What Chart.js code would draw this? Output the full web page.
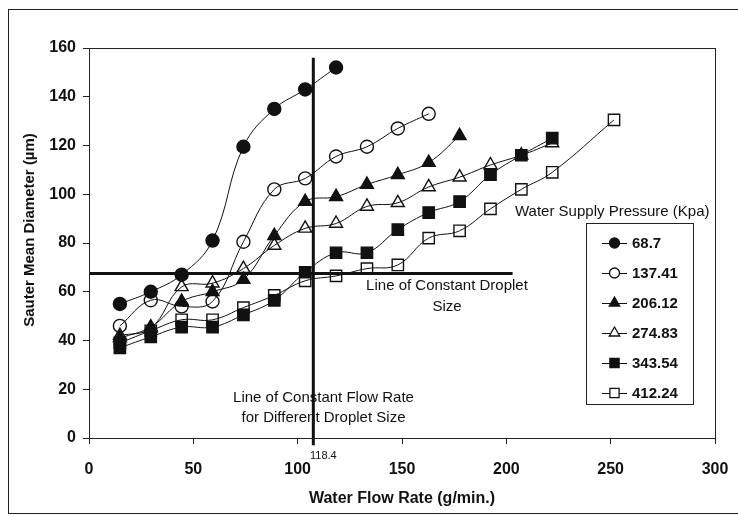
<!DOCTYPE html>
<html><head><meta charset="utf-8">
<script src="https://cdn.jsdelivr.net/npm/chart.js@4.4.1/dist/chart.umd.min.js"></script>
<style>html,body{margin:0;padding:0;background:#fff}#wrap{width:738px;height:516px;position:relative}canvas{display:block}</style>
</head><body><div id="wrap"><canvas id="c" width="738" height="516"></canvas></div>
<script>
// ---- data ----
const flowRates = [14.8, 29.6, 44.4, 59.2, 74, 88.8, 103.6, 118.4, 133.2, 148, 162.8, 177.6, 192.4, 207.2, 222, 236.8, 251.6];
const pressureLabels = ['68.7', '137.41', '206.12', '274.83', '343.54', '412.24'];
const d68_7   = [55, 60, 67, 81, 119.5, 135, 143, 152];
const d137_41 = [46, 56.5, 54, 56, 80.5, 102, 106.5, 115.5, 119.5, 127, 133];
const d206_12 = [41, 45.5, 56, 60, 65, 83, 97, 99, 104, 108, 113, 124];
const d274_83 = [42, 45, 62, 63.5, 69.5, 79, 86, 88, 95, 96.5, 103, 107, 112, 116, 121];
const d343_54 = [37, 41.5, 45.5, 45.5, 50.5, 56.5, 68, 76, 76, 85.5, 92.5, 97, 108, 116, 123];
const d412_24 = [39, 44, 48.5, 48.5, 53.5, 58.5, 64.5, 66.5, 69.5, 71, 82, 85, 94, 102, 109, null, 130.5];
const xTicksStep = 50, xMin = 0, xMax = 300;
const yTicksStep = 20, yMin = 0, yMax = 160;
const constantDropletSize = 67.5;     // horizontal reference line (µm)
const constantSizeLineEnd = 203;      // flow rate where that line ends
const constantFlowRate = 107.5;       // vertical reference line (g/min)
const constantFlowRange = [-3, 156];  // y extent of vertical line
const constantFlowLabel = '118.4';

const INK = '#111';
const FONT = '"Liberation Sans", Arial, sans-serif';
const markerDefs = [
  {style:'circle',   r:6.5, filled:true},
  {style:'circle',   r:6.5, filled:false},
  {style:'triangle', r:7.5, filled:true},
  {style:'triangle', r:7.5, filled:false},
  {style:'rect',     r:8,   filled:true},
  {style:'rect',     r:8,   filled:false}
];
const seriesValues = [d68_7, d137_41, d206_12, d274_83, d343_54, d412_24];

const datasets = seriesValues.map((vals, i) => ({
  label: pressureLabels[i],
  data: vals.map((v, j) => ({x: flowRates[j], y: v})),
  borderColor: INK, borderWidth: 1,
  pointStyle: markerDefs[i].style, pointRadius: markerDefs[i].r, pointHoverRadius: markerDefs[i].r,
  pointBackgroundColor: markerDefs[i].filled ? INK : 'rgba(255,255,255,0)',
  pointBorderColor: INK, pointBorderWidth: 1.4,
  tension: 0.4, spanGaps: true, fill: false
}));
datasets.push({
  label: 'Line of Constant Droplet Size',
  data: [{x: xMin, y: constantDropletSize}, {x: constantSizeLineEnd, y: constantDropletSize}],
  borderColor: INK, borderWidth: 3, pointRadius: 0, tension: 0, fill: false, clip: false
});
datasets.push({
  label: 'Line of Constant Flow Rate',
  data: [{x: constantFlowRate, y: constantFlowRange[0]}, {x: constantFlowRate, y: constantFlowRange[1]}],
  borderColor: INK, borderWidth: 3, pointRadius: 0, tension: 0, fill: false, clip: false
});

const deco = {
  id: 'deco',
  afterDraw(chart) {
    const {ctx, chartArea: a, scales: {x, y}} = chart;
    ctx.save();
    ctx.strokeStyle = '#222'; ctx.lineWidth = 1;
    // plot frame
    ctx.strokeRect(a.left + 0.5, a.top + 0.5, a.right - a.left, a.bottom - a.top);
    // outer chart frame
    ctx.strokeRect(8.5, 9.5, 760, 504);
    ctx.fillStyle = INK;
    ctx.textBaseline = 'middle';
    // y title
    ctx.save();
    ctx.translate(30, 230);
    ctx.rotate(-Math.PI / 2);
    ctx.textAlign = 'center';
    ctx.font = 'bold 15px ' + FONT;
    ctx.fillText('Sauter Mean Diameter (\u00B5m)', 0, 0);
    ctx.restore();
    // annotations
    ctx.textAlign = 'center';
    ctx.font = '15px ' + FONT;
    ctx.fillText('Line of Constant Droplet', 447, 286);
    ctx.fillText('Size', 447, 307);
    ctx.fillText('Line of Constant Flow Rate', 323.5, 398);
    ctx.fillText('for Different Droplet Size', 323.5, 418);
    ctx.font = '11px ' + FONT;
    ctx.fillText(constantFlowLabel, x.getPixelForValue(constantFlowRate) + 10, 456);
    ctx.textAlign = 'left';
    ctx.font = '15px ' + FONT;
    ctx.fillText('Water Supply Pressure (Kpa)', 515, 212);
    // legend
    const L = {x0: 586, y0: 223, x1: 693, y1: 404};
    ctx.strokeRect(L.x0 + 0.5, L.y0 + 0.5, L.x1 - L.x0, L.y1 - L.y0);
    ctx.font = 'bold 15px ' + FONT;
    pressureLabels.forEach((lab, i) => {
      const yy = 243 + i * 30;
      ctx.strokeStyle = INK; ctx.lineWidth = 1;
      ctx.beginPath(); ctx.moveTo(602, yy + 0.5); ctx.lineTo(627, yy + 0.5); ctx.stroke();
      const m = markerDefs[i];
      ctx.fillStyle = m.filled ? INK : '#fff';
      ctx.lineWidth = 1.3;
      Chart.helpers.drawPoint(ctx, {pointStyle: m.style, radius: m.r - 1.5, rotation: 0, borderWidth: 1.3}, 614.5, yy);
      ctx.fillStyle = INK;
      ctx.fillText(lab, 632, yy + 1);
    });
    ctx.restore();
  }
};

const tickFont = {family: FONT, size: 16, weight: 'bold'};
new Chart(document.getElementById('c'), {
  type: 'line',
  data: {datasets},
  plugins: [deco],
  options: {
    responsive: false, animation: false, devicePixelRatio: 1,
    layout: {padding: {left: 0, top: 48, right: 23, bottom: 0}},
    plugins: {legend: {display: false}, tooltip: {enabled: false}},
    scales: {
      x: {
        type: 'linear', min: xMin, max: xMax,
        ticks: {stepSize: xTicksStep, color: INK, font: tickFont, padding: 16, maxRotation: 0},
        grid: {display: true, drawOnChartArea: false, drawTicks: true, tickLength: 6, color: '#222'},
        border: {display: true, color: '#222', width: 1},
        title: {display: true, text: 'Water Flow Rate (g/min.)', color: INK, font: {family: FONT, size: 16, weight: 'bold'}, padding: {top: 0, bottom: 8}},
        afterFit(s) { s.height = 78; s.paddingLeft = 0; s.paddingRight = 0; }
      },
      y: {
        type: 'linear', min: yMin, max: yMax,
        ticks: {stepSize: yTicksStep, color: INK, font: tickFont, padding: 7},
        grid: {display: true, drawOnChartArea: false, drawTicks: true, tickLength: 6, color: '#222'},
        border: {display: true, color: '#222', width: 1},
        afterFit(s) { s.width = 89; s.paddingTop = 0; s.paddingBottom = 0; }
      }
    }
  }
});
</script>
</body></html>
